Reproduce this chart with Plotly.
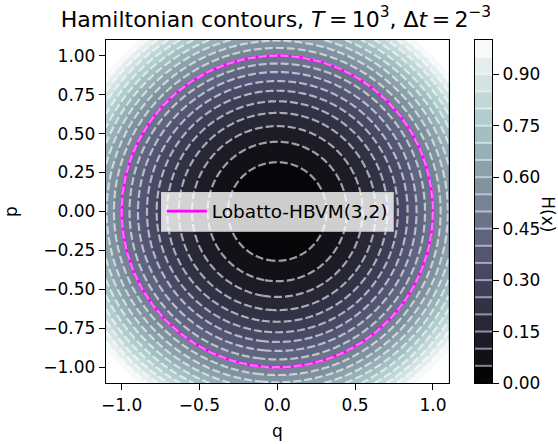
import numpy as np
import plotly.graph_objects as go

# ---------------- data ----------------
q_range = [-1.1, 1.1]
p_range = [-1.1, 1.1]
n_grid = 221
level_start = 0.0
level_end = 1.0
level_step = 0.05

q_ticks = [-1.0, -0.5, 0.0, 0.5, 1.0]
q_ticklabels = ["\u22121.0", "\u22120.5", "0.0", "0.5", "1.0"]
p_ticks = [-1.0, -0.75, -0.5, -0.25, 0.0, 0.25, 0.5, 0.75, 1.0]
p_ticklabels = ["\u22121.00", "\u22120.75", "\u22120.50", "\u22120.25", "0.00",
                "0.25", "0.50", "0.75", "1.00"]
cb_ticks = [0.0, 0.15, 0.30, 0.45, 0.60, 0.75, 0.90]
cb_ticklabels = ["0.00", "0.15", "0.30", "0.45", "0.60", "0.75", "0.90"]

# trajectory (energy-conserving method: stays on the H = H0 level set)
q0, p0 = 1.0, 0.0
dt = 2.0 ** -3
series_name = "Lobatto-HBVM(3,2)"

# ---------------- derived ----------------
qg = np.linspace(q_range[0], q_range[1], n_grid)
pg = np.linspace(p_range[0], p_range[1], n_grid)
Q, P = np.meshgrid(qg, pg)
H = 0.5 * (Q ** 2 + P ** 2)

t = np.arange(0.0, 2 * np.pi + dt, dt)
traj_q = q0 * np.cos(t) + p0 * np.sin(t)
traj_p = -q0 * np.sin(t) + p0 * np.cos(t)

levels = np.arange(level_start, level_end + level_step / 2, level_step)
mids = 0.5 * (levels[:-1] + levels[1:])


def bone(v):
    v = np.clip(v, 0, 1)
    r = np.interp(v, [0, 0.746032, 1], [0, 0.652778, 1])
    g = np.interp(v, [0, 0.365079, 0.746032, 1], [0, 0.319444, 0.777778, 1])
    b = np.interp(v, [0, 0.365079, 1], [0, 0.444444, 1])
    return "rgb(%d,%d,%d)" % (round(r * 255), round(g * 255), round(b * 255))


# contour colorscale: plotly maps scale [0,1] -> [start - step/2, end + step/2]
s = np.linspace(0, 1, 211)
v = (s * (len(levels)) - 0.5) * level_step + level_start
contour_cs = [[float(si), bone(vi)] for si, vi in zip(s, v)]
bar_cs = [[float(si), bone(si)] for si in s]

# ---------------- geometry ----------------
W, Hgt = 558, 444
ml, mr, mt, mb = 105.5, 66, 40, 61.3
pw = W - ml - mr
ph = Hgt - mt - mb
main_w = 343
cb_x0, cb_x1 = 475, 492


def px2x(px):
    return (px - ml) / pw


def py2y(py):
    return (Hgt - mb - py) / ph


line_w = 1.35
fig = go.Figure()

fig.add_trace(go.Contour(
    x=qg, y=pg, z=H,
    contours=dict(start=level_start, end=level_end, size=level_step, coloring="fill"),
    colorscale=contour_cs,
    line=dict(color="rgba(255,255,255,0.6)", width=2.2, dash="8px,3px"),
    showscale=False, hoverinfo="skip",
    xaxis="x", yaxis="y",
))

fig.add_trace(go.Scatter(
    x=traj_q, y=traj_p, mode="lines", name=series_name,
    line=dict(color="#ff00ff", width=2.8),
    xaxis="x", yaxis="y",
))
fig.add_trace(go.Scatter(
    x=traj_q, y=traj_p, mode="lines", showlegend=False,
    line=dict(color="rgba(255,255,255,0.45)", width=2, dash="8px,3px"),
    xaxis="x", yaxis="y", hoverinfo="skip",
))

# colorbar drawn as a heatmap on its own axes
fig.add_trace(go.Heatmap(
    x=[0, 1], y=levels, z=[[m] for m in mids],
    colorscale=bar_cs, zmin=level_start, zmax=level_end,
    showscale=False, hoverinfo="skip", xaxis="x2", yaxis="y2",
))
lx, ly = [], []
for L in levels[1:-1]:
    lx += [0, 1, None]
    ly += [L, L, None]
fig.add_trace(go.Scatter(
    x=lx, y=ly, mode="lines", showlegend=False, hoverinfo="skip",
    line=dict(color="rgba(255,255,255,0.5)", width=2),
    xaxis="x2", yaxis="y2",
))

axis_common = dict(showline=True, linecolor="black", linewidth=line_w, mirror=True,
                   ticks="outside", ticklen=6, tickwidth=line_w, tickcolor="black",
                   showgrid=False, zeroline=False, tickfont=dict(size=17))

fig.update_layout(
    width=W, height=Hgt,
    margin=dict(l=ml, r=mr, t=mt, b=mb, pad=0),
    paper_bgcolor="white", plot_bgcolor="white",
    font=dict(family="DejaVu Sans", color="black", size=17),
    title=dict(
        text="Hamiltonian contours, <i>T</i>\u2009=\u200910<sup>3</sup>, \u0394<i>t</i>\u2009=\u20092<sup>\u22123</sup>",
        x=276 / W, xref="container", xanchor="center",
        y=1 - 19 / Hgt, yref="container", yanchor="middle",
        font=dict(size=22),
    ),
    xaxis=dict(domain=[0, main_w / pw], range=q_range, tickvals=q_ticks,
               ticktext=q_ticklabels, anchor="y", **axis_common),
    yaxis=dict(domain=[0, 1], range=p_range, tickvals=p_ticks,
               ticktext=p_ticklabels, anchor="x", **axis_common),
    xaxis2=dict(domain=[px2x(cb_x0), px2x(cb_x1)], range=[0, 1], anchor="y2",
                showticklabels=False, ticks="", showline=True, mirror=True,
                linecolor="black", linewidth=line_w, showgrid=False, zeroline=False),
    yaxis2=dict(domain=[0, 1], range=[level_start, level_end], anchor="x2", side="right",
                tickvals=cb_ticks, ticktext=cb_ticklabels, showline=True, mirror=True,
                linecolor="black", linewidth=line_w, ticks="outside", ticklen=6,
                tickwidth=line_w, tickcolor="black", showgrid=False, zeroline=False,
                tickfont=dict(size=17)),
    legend=dict(x=px2x(ml + main_w / 2), y=0.5, xanchor="center", yanchor="middle",
                bgcolor="rgba(255,255,255,0.8)", bordercolor="rgba(204,204,204,0.8)",
                borderwidth=1, font=dict(size=18.5), itemwidth=40),
    annotations=[
        dict(text="q", x=px2x(277), y=py2y(431), xref="paper", yref="paper",
             showarrow=False, xanchor="center", yanchor="middle", font=dict(size=17)),
        dict(text="p", x=px2x(10), y=0.5, xref="paper", yref="paper",
             showarrow=False, xanchor="center", yanchor="middle", textangle=-90,
             font=dict(size=17)),
        dict(text="H(x)", x=px2x(548), y=py2y(214), xref="paper", yref="paper",
             showarrow=False, xanchor="center", yanchor="middle", textangle=90,
             font=dict(size=17)),
    ],
)

fig.write_html("out.html")
